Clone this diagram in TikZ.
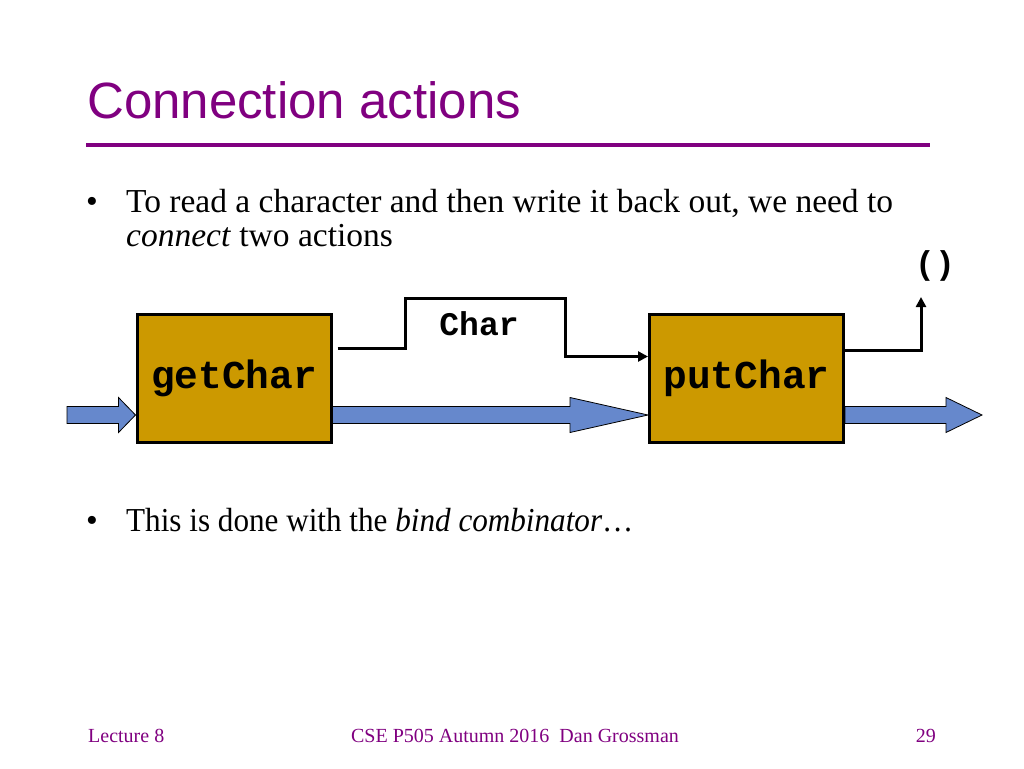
\documentclass[tikz,border=0pt]{standalone}
\usepackage{fontspec}
\setmainfont{Liberation Serif}
\newfontfamily\titlefont{Liberation Sans}
\newfontfamily\codefont{Liberation Mono}
\usetikzlibrary{calc,arrows.meta}
\definecolor{slidepurple}{RGB}{128,0,128}
\definecolor{boxgold}{RGB}{204,153,0}
\definecolor{flowblue}{RGB}{102,136,204}
\begin{document}
\begin{tikzpicture}[x=1pt,y=-1pt,
  txt/.style={anchor=base west,inner sep=0pt,font=\fontsize{33.5}{40}\selectfont},
  foot/.style={inner sep=0pt,text=slidepurple,font=\fontsize{20}{24}\selectfont},
  actbox/.style={draw=black,line width=3pt,fill=boxgold,minimum width=194pt,minimum height=128pt,
    font=\codefont\bfseries\fontsize{39.5}{46}\selectfont},
  conn/.style={draw=black,line width=3pt,-{Triangle[length=10pt,width=10pt]}},
  fat/.style={draw=black,line width=0.8pt,fill=flowblue},
  codelab/.style={inner sep=0pt,font=\codefont\bfseries\fontsize{33}{40}\selectfont}]
\useasboundingbox (0,0) rectangle (1024,768);
% title
\node[anchor=base west,inner sep=0pt,text=slidepurple,font=\titlefont\fontsize{51}{60}\selectfont] (title) at (87,118) {Connection actions};
\coordinate (rs) at (86,145);
\coordinate (re) at (930,145);
\draw[slidepurple,line width=4pt] (rs) -- (re);
% bullets
\node[txt] (d1) at (86,212) {\textbullet};
\node[txt] (t1) at (126,212) {To read a character and then write it back out, we need to};
\node[txt] (t2) at (126,246) {\textit{connect} two actions};
\node[txt] (d2) at (86,531) {\textbullet};
\node[txt] (t3) at (126,531) {\scalebox{0.93}[1]{This is done with the \textit{bind combinator}\dots}};
% boxes (positions)
\coordinate (gc) at (234,378);
\coordinate (pc) at (746.5,378);
\path (gc) node[actbox] (get) {getChar};
\path (pc) node[actbox] (put) {putChar};
% blue flow arrows
\coordinate (in) at (67,415);
\coordinate (g1) at ($(get.west)+(0,37)$);
\coordinate (g2) at ($(get.east)+(0,37)$);
\coordinate (p1) at ($(put.west)+(0,37)$);
\coordinate (p2) at ($(put.east)+(0,37)$);
\coordinate (out) at (982,415);
\draw[fat] ($(in)+(0,-8.5)$) -- ($(g1)+(-17,-8.5)$) -- ($(g1)+(-17,-17.5)$) -- (g1)
  -- ($(g1)+(-17,17.5)$) -- ($(g1)+(-17,8.5)$) -- ($(in)+(0,8.5)$) -- cycle;
\draw[fat] ($(g2)+(0,-8.5)$) -- ($(p1)+(-78,-8.5)$) -- ($(p1)+(-78,-17.5)$) -- (p1)
  -- ($(p1)+(-78,17.5)$) -- ($(p1)+(-78,8.5)$) -- ($(g2)+(0,8.5)$) -- cycle;
\draw[fat] ($(p2)+(0,-8.5)$) -- ($(out)+(-36,-8.5)$) -- ($(out)+(-36,-17.5)$) -- (out)
  -- ($(out)+(-36,17.5)$) -- ($(out)+(-36,8.5)$) -- ($(p2)+(0,8.5)$) -- cycle;
\path (gc) node[actbox] {getChar};
\path (pc) node[actbox] {putChar};
% result connectors
\draw[conn] ($(get.north east)+(5,36)$) -- ++(68,0) -- ++(0,-50) -- ++(160,0) -- ++(0,58)
  -- ($(put.north west)+(0,44)$);
\node[codelab] (charlab) at (479,324) {Char};
\node[codelab] (unitlab) at (935,266) {()};
\coordinate (up) at (921,297);
\draw[conn] ($(put.north east)+(0,38)$) -| (up);
% footer
\node[foot,anchor=base west] (f1) at (88,742) {Lecture 8};
\node[foot,anchor=base] (f2) at (515,742) {CSE P505 Autumn 2016\ \ Dan Grossman};
\node[foot,anchor=base east] (f3) at (936,742) {29};
\end{tikzpicture}
\end{document}
